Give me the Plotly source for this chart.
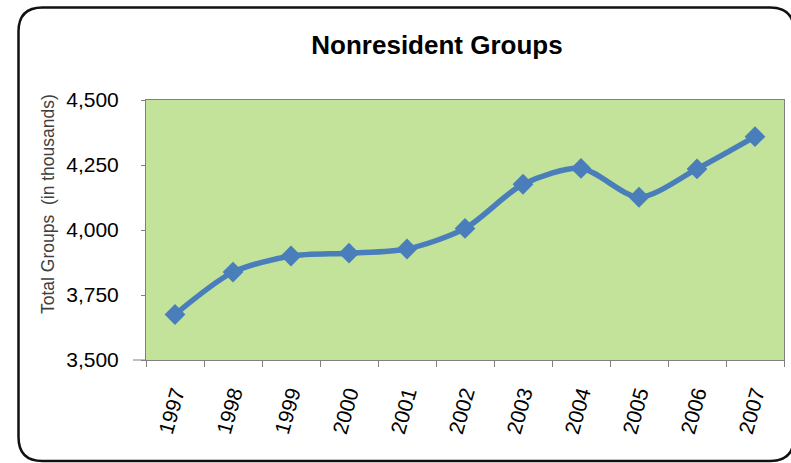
import plotly.graph_objects as go

years = ["1997", "1998", "1999", "2000", "2001", "2002", "2003", "2004", "2005", "2006", "2007"]
groups = [3675, 3838, 3900, 3911, 3927, 4006, 4176, 4237, 4126, 4235, 4359]
y_ticks = [3500, 3750, 4000, 4250, 4500]
y_tick_labels = ["3,500", "3,750", "4,000", "4,250", "4,500"]

W, H = 791, 463
L, R, T, B = 146, 7, 100, 103
pw, ph = W - L - R, H - T - B

def px(x):
    return (x - L) / pw

def py(y):
    return (H - B - y) / ph

fig = go.Figure()
fig.add_trace(go.Scatter(
    x=years, y=groups, mode="lines+markers",
    line=dict(color="#4A7EBB", width=5.5, shape="spline", smoothing=0.8),
    marker=dict(symbol="diamond", size=16, color="#4A7EBB"),
    showlegend=False, hoverinfo="skip",
))

# rounded outer border
x0, x1, y0, y1, r = 18.5, 794, 7.5, 461, 24
path = (
    f"M {px(x0+r)},{py(y0)} L {px(x1-r)},{py(y0)} Q {px(x1)},{py(y0)} {px(x1)},{py(y0+r)} "
    f"L {px(x1)},{py(y1-r)} Q {px(x1)},{py(y1)} {px(x1-r)},{py(y1)} "
    f"L {px(x0+r)},{py(y1)} Q {px(x0)},{py(y1)} {px(x0)},{py(y1-r)} "
    f"L {px(x0)},{py(y0+r)} Q {px(x0)},{py(y0)} {px(x0+r)},{py(y0)} Z"
)
fig.add_shape(type="path", path=path, xref="paper", yref="paper",
              line=dict(color="#111111", width=2.5), layer="below")

# small extension of the bottom axis line to the left of the plot
fig.add_shape(type="line", xref="paper", yref="paper",
              x0=px(133), x1=0, y0=0, y1=0, line=dict(color="#808080", width=1))

fig.add_annotation(
    text="Total Groups  (in thousands)", textangle=-90,
    xref="paper", yref="paper", x=px(48), y=py(204),
    xanchor="center", yanchor="middle",
    showarrow=False, font=dict(family="Liberation Sans, Arial", size=17.5, color="#404040"),
)

fig.update_layout(
    width=W, height=H,
    margin=dict(l=L, r=R, t=T, b=B),
    paper_bgcolor="white", plot_bgcolor="#C3E39B",
    title=dict(text="<b>Nonresident Groups</b>", x=437 / W, xref="container",
               y=1 - 45 / H, yref="container", xanchor="center", yanchor="middle",
               font=dict(family="Liberation Sans, Arial", size=26, color="black")),
    font=dict(family="Liberation Sans, Arial", color="black"),
)
fig.update_xaxes(
    type="category", tickangle=-74, tickfont=dict(size=21),
    showgrid=False, showline=True, linecolor="#808080", linewidth=1, mirror=True,
    ticks="outside", ticklen=6, tickcolor="#808080", tickson="boundaries",
    range=[-0.5, 10.5], ticklabelstandoff=12,
)
fig.update_yaxes(
    range=[3500, 4500], tickvals=y_ticks, ticktext=y_tick_labels, tickfont=dict(size=21),
    showgrid=False, showline=True, linecolor="#808080", linewidth=1, mirror=True,
    ticks="outside", ticklen=4, tickcolor="#808080", zeroline=False,
    ticklabelstandoff=18,
)

fig.write_html("out.html", config={"displayModeBar": False},
               post_script="document.body.style.margin='0px';")
